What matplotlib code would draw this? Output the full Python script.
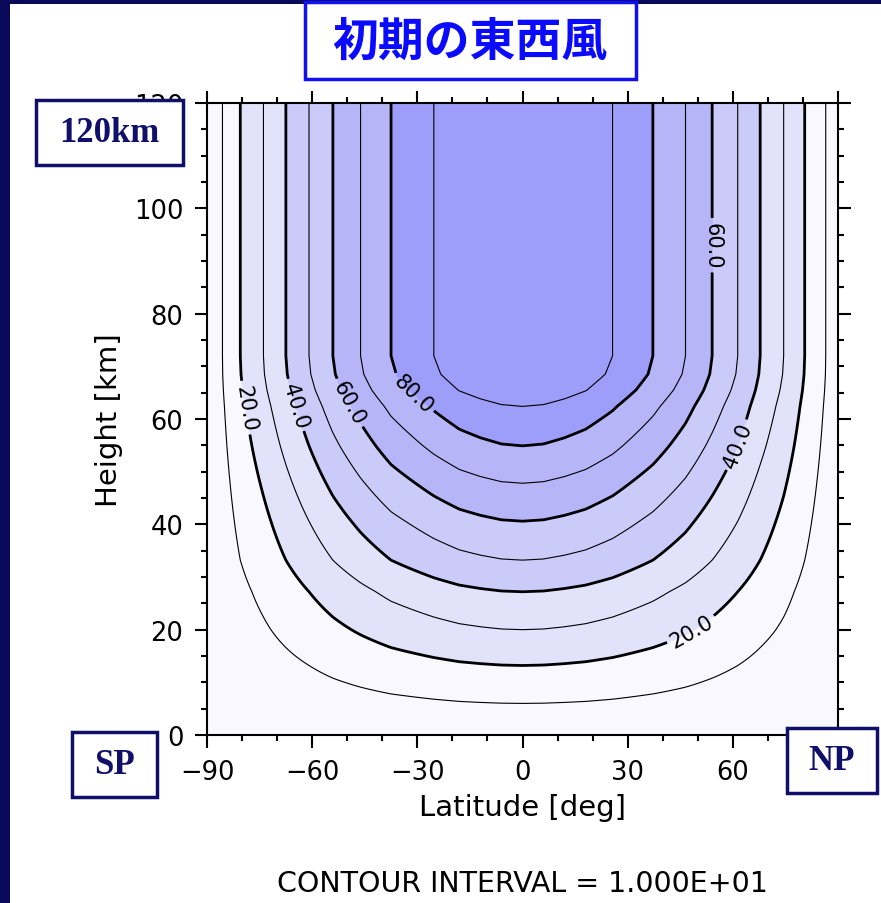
import numpy as np
import matplotlib
matplotlib.use("Agg")
import matplotlib.pyplot as plt
from matplotlib.patches import Rectangle

LEVELS_READ = [10, 20, 30, 40, 50, 60, 70, 80, 90]
# latitudes of the vertical contour legs in the upper levels
LAT_SOUTH = [-85.6, -80.5, -73.9, -67.5, -60.9, -54.1, -46.2, -37.5, -25.3]
LAT_NORTH = [86.5, 80.5, 74.5, 67.8, 61.4, 54.1, 46.5, 37.2, 25.7]
LAT_CORE = [-18.0, -12.0, -6.0, 0.0, 6.0, 12.0, 18.0]
U_CORE = [95.0, 97.5, 99.4, 100.0, 99.4, 97.5, 95.0]
# heights where the same values cross the equator
Z_EQ = [6.0, 13.2, 20.0, 27.2, 33.2, 40.6, 47.8, 54.9, 62.4]
Z_TOP = [65.5, 68.5, 72.0, 120.0]
U_TOP = [95.0, 98.5, 100.0, 100.0]

THIN_LEVELS = [10, 30, 50, 70, 90]
THICK_LEVELS = [20, 40, 60, 80]
FILL_LEVELS = [0, 20, 40, 60, 80, 101]
FILL_COLORS = ["#f8f8fe", "#e2e2fb", "#cbcbfa", "#b5b5f8", "#9d9dfa"]

NAVY = "#0a0a5a"
W, H = 881, 904


def px_rect(x0, y0, x1, y1):
    return (x0 / W, 1 - y1 / H, (x1 - x0) / W, (y1 - y0) / H)


def main():
    lat_nodes = [-90.0] + LAT_SOUTH + LAT_CORE + LAT_NORTH[::-1] + [90.0]
    lat_vals = [0.0] + LEVELS_READ + U_CORE + LEVELS_READ[::-1] + [0.0]
    z_nodes = [0.0] + Z_EQ + Z_TOP
    z_vals = [0.0] + LEVELS_READ + U_TOP

    lat = np.linspace(-90, 90, 721)
    z = np.linspace(0, 120, 481)
    a = np.interp(lat, lat_nodes, lat_vals)
    b = np.interp(z, z_nodes, z_vals)
    u = np.outer(b, a) / 100.0

    fig = plt.figure(figsize=(W / 100, H / 100), dpi=100, facecolor=NAVY)
    fig.add_artist(Rectangle((10 / W, 0), 1, 1 - 5 / H, transform=fig.transFigure,
                             facecolor="white", edgecolor="none", zorder=-5))

    ax = fig.add_axes(px_rect(207, 104, 838, 736))
    ax.set_facecolor(FILL_COLORS[0])
    ax.contourf(lat, z, u, levels=FILL_LEVELS, colors=FILL_COLORS)
    ax.contour(lat, z, u, levels=THIN_LEVELS, colors="black", linewidths=0.8)
    cs = ax.contour(lat, z, u, levels=THICK_LEVELS, colors="black", linewidths=2.0)
    ax.clabel(cs, fmt="%.1f", fontsize=15, inline=True, inline_spacing=4,
              manual=[(-80.5, 62), (-67.5, 62), (-52, 62), (-31, 65),
                      (54.1, 93), (61.5, 55), (48, 20)])

    ax.set_xlim(-90, 90)
    ax.set_ylim(0, 120)
    ax.set_xticks(np.arange(-90, 91, 30))
    ax.set_xticks(np.arange(-90, 91, 10), minor=True)
    ax.set_yticks(np.arange(0, 121, 20))
    ax.set_yticks(np.arange(0, 121, 5), minor=True)
    # the 90 label sits under the NP box in the original
    ax.set_xticklabels(["\u221290", "\u221260", "\u221230", "0", "30", "60", ""])
    ax.tick_params(which="both", direction="out", top=True, right=True,
                   width=1.5, labelsize=18.5, pad=8)
    ax.tick_params(which="major", length=9)
    ax.tick_params(which="minor", length=4)
    for sp in ax.spines.values():
        sp.set_linewidth(1.5)
    ax.set_xlabel("Latitude [deg]", fontsize=21, labelpad=6)
    ax.set_ylabel("Height [km]", fontsize=21, labelpad=8)

    fig.text(522 / W, 1 - 884 / H, "CONTOUR INTERVAL = 1.000E+01", fontsize=20.5,
             ha="center", va="center")

    # title box
    fig.add_artist(Rectangle(px_rect(305, 3, 636, 80)[:2], 331 / W, 77 / H,
                             transform=fig.transFigure, facecolor="white",
                             edgecolor="#1010f0", linewidth=2.5, zorder=10))
    fig.text(470 / W, 1 - 43 / H, "初期の東西風", fontsize=33, fontweight="bold",
             color="#0a0aff", ha="center", va="center",
             family=["Noto Sans CJK JP", "DejaVu Sans"], zorder=11)

    # corner boxes
    boxes = [((36, 101, 183, 166), "120km"), ((72, 733, 157, 798), "SP"),
             ((787, 729, 877, 794), "NP")]
    for (x0, y0, x1, y1), txt in boxes:
        r = px_rect(x0, y0, x1, y1)
        fig.add_artist(Rectangle(r[:2], r[2], r[3], transform=fig.transFigure,
                                 facecolor="white", edgecolor="#10106a",
                                 linewidth=2.5, zorder=10))
        fig.text((x0 + x1) / 2 / W, 1 - (y0 + y1) / 2 / H, txt, fontsize=25,
                 fontweight="bold", color="#10106a", family="Liberation Serif",
                 ha="center", va="center", zorder=11)

    fig.savefig("out.png", dpi=100, facecolor=NAVY)


if __name__ == "__main__":
    main()
